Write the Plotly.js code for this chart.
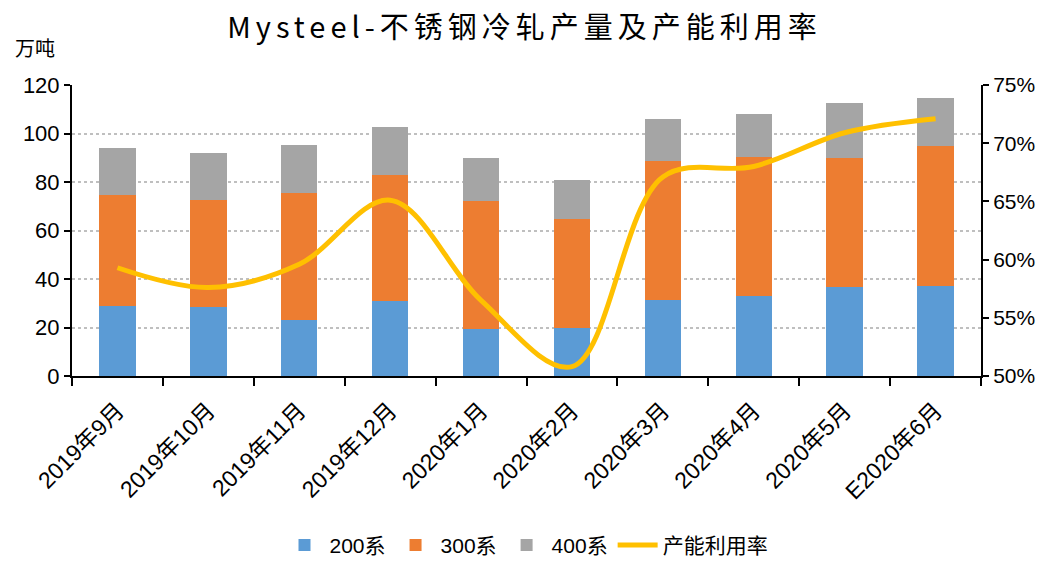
<!DOCTYPE html>
<html>
<head>
<meta charset="utf-8">
<script src="https://cdn.plot.ly/plotly-3.0.1.min.js"></script>
<style>
html,body{margin:0;padding:0;background:#fff;}
#chart{width:1049px;height:561px;}
.gtitle{letter-spacing:5px;}
</style>
</head>
<body>
<div id="chart"></div>
<script>
const categories = ["2019年9月","2019年10月","2019年11月","2019年12月","2020年1月","2020年2月","2020年3月","2020年4月","2020年5月","E2020年6月"];
const s200 = [29.0, 28.3, 23.3, 30.8, 19.2, 19.9, 31.3, 33.1, 36.8, 37.1];
const s300 = [45.8, 44.2, 52.1, 52.0, 52.9, 44.8, 57.3, 57.1, 53.1, 57.8];
const s400 = [19.3, 19.6, 19.8, 19.8, 17.6, 16.3, 17.5, 18.0, 22.8, 19.6];
const utilization = [0.593, 0.576, 0.596, 0.651, 0.565, 0.508, 0.671, 0.680, 0.709, 0.721];
const seriesNames = ["200系","300系","400系","产能利用率"];

const latin = "Liberation Sans, Arial, sans-serif";
const cjk = "Noto Sans CJK SC, sans-serif";
const mixed = "Liberation Sans, Noto Sans CJK SC, sans-serif";

const traces = [
  {type:"bar", name:seriesNames[0], x:categories, y:s200, marker:{color:"#5B9BD5"}},
  {type:"bar", name:seriesNames[1], x:categories, y:s300, marker:{color:"#ED7D31"}},
  {type:"bar", name:seriesNames[2], x:categories, y:s400, marker:{color:"#A5A5A5"}},
  {type:"scatter", mode:"lines", name:seriesNames[3], x:categories, y:utilization, yaxis:"y2",
   line:{color:"#FFC000", width:5, shape:"spline", smoothing:1.0}}
];

const layout = {
  width:1049, height:561,
  margin:{l:72, r:68, t:85, b:185},
  paper_bgcolor:"#fff", plot_bgcolor:"#fff",
  barmode:"stack", bargap:0.6,
  showlegend:true,
  title:{text:"Mysteel-不锈钢冷轧产量及产能利用率", x:0.5, xanchor:"center", y:0.95, yanchor:"middle", yref:"container",
    font:{family:cjk, size:29, color:"#000"}},
  xaxis:{
    type:"category", showline:true, linecolor:"#000", linewidth:2,
    ticks:"outside", tickson:"boundaries", ticklen:8, tickwidth:2, tickcolor:"#000",
    tickangle:-45, tickfont:{family:mixed, size:23, color:"#000"}, ticklabelstandoff:10,
    showgrid:false, zeroline:false, fixedrange:true
  },
  yaxis:{
    range:[0,120], dtick:20, showline:true, linecolor:"#000", linewidth:2,
    ticks:"outside", ticklen:6, tickwidth:2, tickcolor:"#000",
    tickfont:{family:latin, size:22, color:"#000"},
    showgrid:true, gridcolor:"#BFBFBF", gridwidth:2, griddash:"dot",
    zeroline:false
  },
  yaxis2:{
    overlaying:"y", side:"right", range:[0.5,0.75], dtick:0.05, tickformat:".0%",
    showline:true, linecolor:"#000", linewidth:2,
    ticks:"outside", ticklen:6, tickwidth:2, tickcolor:"#000",
    tickfont:{family:latin, size:21, color:"#000"},
    showgrid:false, zeroline:false
  },
  legend:{orientation:"h", x:0.5, xanchor:"center", y:0.028, yanchor:"middle", yref:"container",
    font:{family:mixed, size:21, color:"#000"}, traceorder:"normal", itemwidth:40},
  annotations:[
    {text:"万吨", xref:"paper", yref:"paper", x:-0.065, y:1.13, xanchor:"left", yanchor:"middle",
     showarrow:false, font:{family:cjk, size:20, color:"#000"}}
  ]
};

Plotly.newPlot("chart", traces, layout, {displayModeBar:false, staticPlot:true});
</script>
</body>
</html>
